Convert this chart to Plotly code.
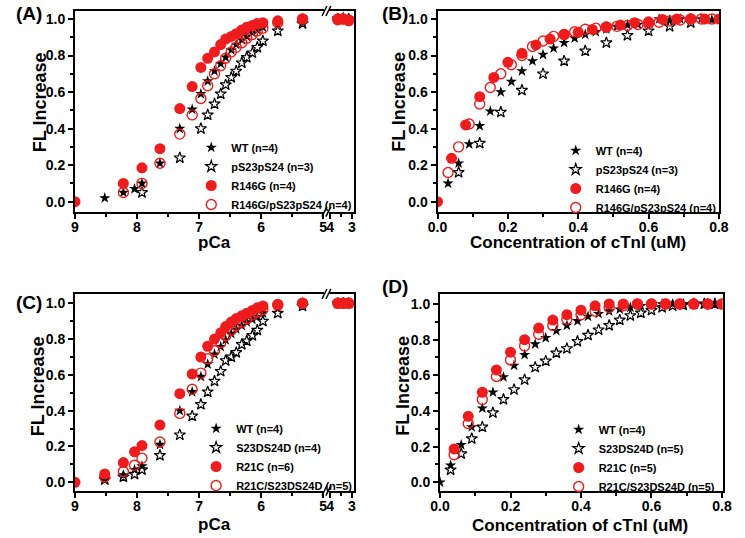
import plotly.graph_objects as go

W, H = 745, 538


def px(x):
    return x / W


def py(y):
    return 1 - y / H


# ---------------- DATA ----------------
# Panel A / C : pCa titrations (shared pCa grid; None = point not shown)
pca_grid = [9.0, 8.52, 8.22, 8.04, 7.92, 7.63, 7.31, 7.11, 6.97, 6.86, 6.75, 6.65, 6.57,
            6.48, 6.40, 6.31, 6.23, 6.14, 6.06, 5.97, 5.73, 5.33, 3.65, 3.40, 3.15]

A_wt = [None, 0.02, 0.05, 0.07, 0.10, 0.21, 0.40, 0.505, 0.59, 0.66, 0.715, 0.755, 0.79,
        0.83, 0.86, 0.885, 0.905, 0.925, 0.94, 0.955, 0.97, 0.98, 1.0, 1.01, 1.0]
A_ps = [None, None, None, None, 0.05, None, 0.24, None, 0.40, 0.475, 0.535, 0.59, 0.64,
        0.68, 0.715, 0.76, 0.79, 0.815, 0.845, 0.88, 0.935, 0.975, 1.0, 1.0, 1.0]
A_mut = [0.0, None, 0.10, None, 0.185, 0.29, 0.51, 0.63, 0.735, 0.785, 0.82, 0.86, 0.89,
         0.905, 0.92, 0.94, 0.955, 0.965, 0.975, 0.98, 0.99, 1.0, 0.995, 1.0, 0.99]
A_mutps = [None, None, 0.05, None, 0.10, 0.21, 0.37, 0.475, 0.565, 0.635, 0.70, 0.745, 0.785,
           0.82, 0.845, 0.87, 0.895, 0.915, 0.935, 0.95, 0.98, 1.0, 1.0, 1.0, 0.995]
A_names = ["WT (n=4)", "pS23pS24 (n=3)", "R146G (n=4)", "R146G/pS23pS24 (n=4)"]

C_wt = [None, 0.02, 0.04, 0.07, 0.09, 0.21, 0.40, 0.505, 0.59, 0.66, 0.715, 0.757, 0.795,
        0.83, 0.855, 0.875, 0.895, 0.91, 0.925, 0.945, 0.97, 1.0, 1.0, 1.0, 1.0]
C_ps = [None, 0.015, 0.03, 0.045, 0.07, 0.15, 0.265, 0.37, 0.435, 0.505, 0.565, 0.62, 0.68,
        0.70, 0.725, 0.77, 0.79, 0.82, 0.85, 0.90, 0.945, 0.985, 1.0, 1.0, 1.0]
C_mut = [0.0, 0.047, 0.11, 0.17, 0.205, 0.32, 0.495, 0.605, 0.70, 0.76, 0.80, 0.835, 0.87,
         0.895, 0.915, 0.93, 0.945, 0.96, 0.975, 0.985, 0.995, 1.0, 1.0, 1.0, 1.0]
C_mutps = [None, 0.03, 0.06, 0.095, 0.135, 0.225, 0.385, 0.52, 0.61, 0.69, 0.735, 0.78, 0.82,
           0.85, 0.875, 0.895, 0.915, 0.935, 0.95, 0.965, 0.99, 1.0, 1.0, 1.0, 1.0]
C_names = ["WT (n=4)", "S23DS24D (n=4)", "R21C (n=6)", "R21C/S23DS24D (n=5)"]

# Panel B / D : cTnI concentration titrations (uM)
conc_03 = [0.03, 0.06, 0.09, 0.12, 0.15, 0.18, 0.21, 0.24, 0.27, 0.30, 0.33, 0.36, 0.39,
           0.42, 0.45, 0.48, 0.51, 0.54, 0.57, 0.60, 0.63, 0.66, 0.69, 0.72, 0.75, 0.78]
conc_06 = [0.06, 0.12, 0.18, 0.24, 0.30, 0.36, 0.42, 0.48, 0.54, 0.60, 0.66, 0.72]
conc_04 = [0.04, 0.08, 0.12, 0.16, 0.20, 0.24, 0.28, 0.32, 0.36, 0.40, 0.44, 0.48,
           0.52, 0.56, 0.60, 0.64, 0.68, 0.72, 0.76, 0.80]

B_wt = [0.10, 0.21, 0.315, 0.415, 0.495, 0.60, 0.657, 0.715, 0.77, 0.805, 0.84, 0.87, 0.895,
        0.915, 0.93, 0.945, 0.958, 0.967, 0.97, 0.98, 1.0, 0.995, 1.0, 1.0, 1.0, 0.995]
B_ps = [0.16, 0.32, 0.49, 0.61, 0.70, 0.77, 0.825, 0.87, 0.91, 0.935, 0.96, 0.98]
B_mut_x = [0.0] + conc_04
B_mut = [0.0, 0.237, 0.42, 0.575, 0.68, 0.763, 0.812, 0.858, 0.89, 0.916, 0.927, 0.943, 0.958,
         0.967, 0.98, 0.985, 0.998, 1.0, 1.0, 1.0, 1.0]
B_mutps = [0.16, 0.30, 0.425, 0.535, 0.625, 0.70, 0.75, 0.80, 0.85, 0.88, 0.905, 0.915, 0.93,
           0.944, 0.95, 0.955, 0.96, 0.965, 0.97, 0.975, 0.982, 0.99, 0.995, 1.0, 1.0, 1.0]
B_names = A_names

D_wt_x = [0.0] + conc_03
D_wt = [0.0, 0.095, 0.21, 0.31, 0.415, 0.505, 0.59, 0.655, 0.715, 0.775, 0.81, 0.85, 0.88,
        0.905, 0.93, 0.945, 0.96, 0.97, 0.98, 0.99, 0.995, 1.0, 1.0, 1.0, 1.0, 1.0, 1.0]
D_ps = [0.07, 0.16, 0.245, 0.31, 0.39, 0.465, 0.52, 0.575, 0.645, 0.68, 0.725, 0.75, 0.79,
        0.825, 0.855, 0.88, 0.91, 0.935, 0.95, 0.965, 0.98, 0.99, 0.995, 1.0, 1.0, 1.0]
D_mut = [0.187, 0.37, 0.505, 0.63, 0.73, 0.80, 0.865, 0.91, 0.94, 0.965, 0.99, 1.0,
         1.0, 1.0, 1.0, 1.0, 1.0, 1.0, 1.0, 1.0]
D_mutps = [0.155, 0.33, 0.465, 0.593, 0.686, 0.765, 0.83, 0.88, 0.914, 0.94, 0.96, 0.98,
           0.99, 1.0, 1.0, 1.0, 1.0, 1.0, 1.0, 1.0]
D_names = ["WT (n=4)", "S23DS24D (n=5)", "R21C (n=5)", "R21C/S23DS24D (n=5)"]

# ---------------- STYLE ----------------
RED = "#ee1c1c"
FONT = "Liberation Sans, Arial, sans-serif"
STY = [
    dict(symbol="star", size=8.5, color="black", line=dict(width=0)),
    dict(symbol="star-open", size=8.5, color="black", line=dict(width=1.2, color="black")),
    dict(symbol="circle", size=11, color=RED, line=dict(width=0)),
    dict(symbol="circle-open", size=10, color=RED, line=dict(width=1.4, color=RED)),
]

fig = go.Figure()


def add_pca_panel(series, names, xa1, ya1, xa2, ya2, leg):
    for k, (vals, nm) in enumerate(zip(series, names)):
        x1 = [p for p, v in zip(pca_grid, vals) if v is not None and p > 4.5]
        y1 = [v for p, v in zip(pca_grid, vals) if v is not None and p > 4.5]
        x2 = [p for p, v in zip(pca_grid, vals) if v is not None and p < 4.5]
        y2 = [v for p, v in zip(pca_grid, vals) if v is not None and p < 4.5]
        grp = leg + str(k)
        fig.add_trace(go.Scatter(x=x1, y=y1, mode="markers", name=nm, marker=STY[k],
                                 xaxis=xa1, yaxis=ya1, legend=leg, legendgroup=grp))
        fig.add_trace(go.Scatter(x=x2, y=y2, mode="markers", name=nm, marker=STY[k],
                                 xaxis=xa2, yaxis=ya2, showlegend=False, legendgroup=grp))


def add_conc_panel(xs, ys, names, xa, ya, leg):
    for k, (xv, yv, nm) in enumerate(zip(xs, ys, names)):
        fig.add_trace(go.Scatter(x=xv, y=yv, mode="markers", name=nm, marker=STY[k],
                                 xaxis=xa, yaxis=ya, legend=leg))


add_pca_panel([A_wt, A_ps, A_mut, A_mutps], A_names, "x", "y", "x2", "y2", "legend")
add_conc_panel([conc_03, conc_06, B_mut_x, conc_03], [B_wt, B_ps, B_mut, B_mutps], B_names,
               "x3", "y3", "legend2")
add_pca_panel([C_wt, C_ps, C_mut, C_mutps], C_names, "x4", "y4", "x5", "y5", "legend3")
add_conc_panel([D_wt_x, conc_03, conc_04, conc_04], [D_wt, D_ps, D_mut, D_mutps], D_names,
               "x6", "y6", "legend4")

# ---------------- AXES ----------------
tickfont = dict(family=FONT, size=14, color="black", weight="bold")
base = dict(showline=True, linecolor="black", linewidth=2, ticks="outside", ticklen=5,
            tickwidth=1.5, tickcolor="black", showgrid=False, zeroline=False,
            tickfont=tickfont)
xbase = dict(base, ticklabelstandoff=-4)
minor_y = dict(dtick=0.1, tick0=0, ticks="outside", ticklen=3, tickwidth=1.5, tickcolor="black",
               showgrid=False)
minor_p = dict(dtick=0.5, tick0=5, ticks="outside", ticklen=3, tickwidth=1.5, tickcolor="black",
               showgrid=False)
minor_c = dict(dtick=0.1, tick0=0, ticks="outside", ticklen=3, tickwidth=1.5, tickcolor="black",
               showgrid=False)

top_dom = [py(211.7), py(11)]
bot_dom = [py(490.7), py(294)]
rngA = [-0.055, 1.044]
rngC = [-0.047, 1.052]
rngD = [-0.047, 1.056]

seg1 = [px(66.7), px(322.5)]
seg2 = [px(327), px(352.7)]


def yax(dom, rng, anchor, mirror):
    return dict(base, domain=dom, range=rng, anchor=anchor, tick0=0, dtick=0.2,
                tickformat=".1f", minor=minor_y, mirror=mirror)


def yright(dom, rng, anchor):
    return dict(domain=dom, range=rng, anchor=anchor, side="right", showline=True,
                linecolor="black", linewidth=2, ticks="", showticklabels=False,
                showgrid=False, zeroline=False)


fig.update_layout(
    xaxis=dict(xbase, domain=seg1, range=[9, 4.98], anchor="y", tick0=5, dtick=1,
               minor=minor_p, mirror=True),
    xaxis2=dict(xbase, domain=seg2, range=[4.07, 2.92], anchor="y2", tick0=3, dtick=1,
                minor=dict(minor_p, tick0=3), mirror=True),
    yaxis=yax(top_dom, rngA, "x", False),
    yaxis2=yright(top_dom, rngA, "x2"),
    xaxis3=dict(xbase, domain=[px(438.7), px(728)], range=[0, 0.8015], anchor="y3", tick0=0,
                dtick=0.2, tickformat=".1f", minor=minor_c, mirror=True),
    yaxis3=yax(top_dom, rngA, "x3", True),
    xaxis4=dict(xbase, domain=seg1, range=[9, 4.98], anchor="y4", tick0=5, dtick=1,
                minor=minor_p, mirror=True),
    xaxis5=dict(xbase, domain=seg2, range=[4.07, 2.92], anchor="y5", tick0=3, dtick=1,
                minor=dict(minor_p, tick0=3), mirror=True),
    yaxis4=yax(bot_dom, rngC, "x4", False),
    yaxis5=yright(bot_dom, rngC, "x5"),
    xaxis6=dict(xbase, domain=[px(441.3), px(731.3)], range=[0, 0.802], anchor="y6", tick0=0,
                dtick=0.2, tickformat=".1f", minor=minor_c, mirror=True),
    yaxis6=yax(bot_dom, rngD, "x6", True),
)

# ---------------- LEGENDS ----------------
legfont = dict(family=FONT, size=11, color="black", weight="bold")


def leg(x, y):
    return dict(x=px(x), y=py(y), xanchor="left", yanchor="middle", bgcolor="rgba(0,0,0,0)",
                font=legfont, borderwidth=0, tracegroupgap=0, itemsizing="trace")


fig.update_layout(legend=leg(186, 176), legend2=leg(560, 179), legend3=leg(191, 457),
                  legend4=leg(563, 458))

# ---------------- TEXT ----------------
ann = []


def txt(s, x, y, size, angle=0):
    ann.append(dict(text=s, x=px(x), y=py(y), xref="paper", yref="paper", showarrow=False,
                    xanchor="center", yanchor="middle", textangle=angle,
                    font=dict(family=FONT, size=size, color="black", weight="bold")))


txt("(A)", 19, 13, 19)
txt("(B)", 395, 13, 19)
txt("(C)", 19, 302, 19)
txt("(D)", 395, 286, 19)
txt("FL Increase", 31, 102, 18, -90)
txt("FL Increase", 399, 102, 18, -90)
txt("FL Increase", 29, 386, 18, -90)
txt("FL Increase", 403, 386, 18, -90)
txt("pCa", 210, 242, 17)
txt("Concentration of cTnI (uM)", 583, 242, 17)
txt("pCa", 210, 524, 17)
txt("Concentration of cTnI (uM)", 585, 525, 17)

# ---------------- AXIS BREAK MARKS ----------------
shapes = []
for yb in [11, 211.7, 294, 490.7]:
    for xc in [322.7, 326.7]:
        shapes.append(dict(type="line", xref="paper", yref="paper",
                           x0=px(xc - 2.5), y0=py(yb + 5), x1=px(xc + 2.5), y1=py(yb - 5),
                           line=dict(color="black", width=1.5)))

fig.update_layout(
    annotations=ann, shapes=shapes,
    width=W, height=H, autosize=False,
    margin=dict(l=0, r=0, t=0, b=0),
    paper_bgcolor="white", plot_bgcolor="rgba(0,0,0,0)",
    font=dict(family=FONT, color="black"),
)

fig.write_html("out.html", config={"displayModeBar": False},
               post_script="document.body.style.margin='0px';")
